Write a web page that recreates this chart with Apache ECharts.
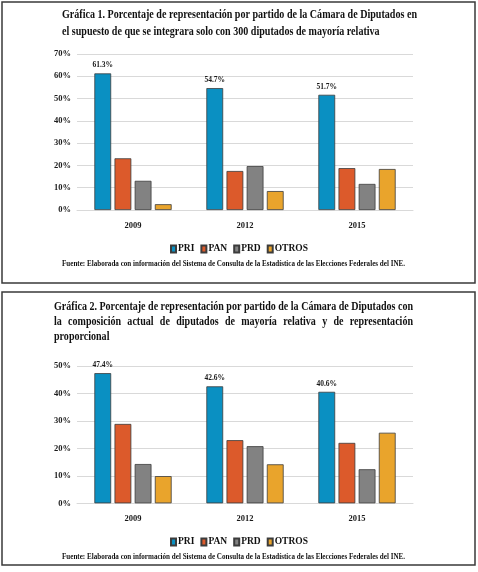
<!DOCTYPE html>
<html><head><meta charset="utf-8">
<script src="https://cdn.jsdelivr.net/npm/echarts@6/dist/echarts.min.js"></script>
<style>html,body{margin:0;padding:0;background:#fff;}#c{width:478px;height:572px;}</style>
</head><body><div id="c"></div>
<script>
const categories = ['2009', '2012', '2015'];
const parties = ['PRI', 'PAN', 'PRD', 'OTROS'];
const g1PRI = [61.3, 54.7, 51.7];
const g1PAN = [23.2, 17.5, 18.8];
const g1PRD = [13.1, 19.7, 11.7];
const g1OTROS = [2.6, 8.5, 18.4];
const g2PRI = [47.4, 42.6, 40.6];
const g2PAN = [28.9, 23.0, 22.0];
const g2PRD = [14.3, 20.8, 12.4];
const g2OTROS = [9.9, 14.2, 25.7];
const y1Max = 70, y2Max = 50, yStep = 10;
const title1 = ['Gráfica 1. Porcentaje de representación por partido de la Cámara de Diputados en',
  'el supuesto de que se integrara solo con 300 diputados de mayoría relativa'];
const title2 = ['Gráfica 2. Porcentaje de representación por partido de la Cámara de Diputados con',
  'la composición actual de diputados de mayoría relativa y de representación',
  'proporcional'];
const source = 'Fuente: Elaborada con información del Sistema de Consulta de la Estadística de las Elecciones Federales del INE.';

const colors = ['#0a90c2', '#dc5a2b', '#828282', '#e9a42c'];
const FAM = '"Liberation Serif","Times New Roman",serif';
const cv = document.createElement('canvas').getContext('2d');
function measure(t, font) { cv.font = font; return cv.measureText(t).width; }

function lineEls(str, font, x, y, scale, justifyW) {
  if (!justifyW) {
    return [{ type: 'text', x: x, y: y, scaleX: scale, style: { x: 0, y: 0, text: str, font: font, fill: '#111', textAlign: 'left', textVerticalAlign: 'middle' } }];
  }
  const words = str.split(' ');
  const ws = words.map(w => measure(w, font) * scale);
  const tot = ws.reduce((a, b) => a + b, 0);
  const gap = (justifyW - tot) / (words.length - 1);
  let cx = x; const out = [];
  words.forEach((w, i) => {
    out.push({ type: 'text', x: cx, y: y, scaleX: scale, style: { x: 0, y: 0, text: w, font: font, fill: '#111', textAlign: 'left', textVerticalAlign: 'middle' } });
    cx += ws[i] + gap;
  });
  return out;
}
const tFont = 'bold 13.5px ' + FAM;
const s1 = (417 - 62) / measure(title1[0], tFont);
const s2 = (413 - 54) / measure(title2[0], tFont);
const sFont = 'bold 7.8px ' + FAM;
const sS = (405 - 62) / measure(source, sFont);

const graphic = [
  { type: 'rect', shape: { x: 2, y: 2, width: 473, height: 281 }, style: { fill: 'none', stroke: '#3a3a3a', lineWidth: 1.5 } },
  { type: 'rect', shape: { x: 2, y: 292, width: 473, height: 273 }, style: { fill: 'none', stroke: '#3a3a3a', lineWidth: 1.5 } }
].concat(
  lineEls(title1[0], tFont, 62, 15, s1),
  lineEls(title1[1], tFont, 62, 32, s1),
  lineEls(title2[0], tFont, 54, 307, s2),
  lineEls(title2[1], tFont, 54, 322, s2, 413 - 54),
  lineEls(title2[2], tFont, 54, 337, s2),
  lineEls(source, sFont, 62, 264, sS),
  lineEls(source, sFont, 62, 557, sS)
);

const axisFont = { fontFamily: FAM, fontWeight: 'bold', fontSize: 8.5, color: '#1a1a1a' };
function xAx(gi) {
  return { type: 'category', gridIndex: gi, data: categories, axisTick: { show: false },
    axisLine: { lineStyle: { color: '#d9d9d9' } }, axisLabel: Object.assign({ margin: 11 }, axisFont) };
}
function yAx(gi, max) {
  return { type: 'value', gridIndex: gi, min: 0, max: max, interval: yStep,
    axisLabel: Object.assign({ formatter: '{value}%', margin: 6 }, axisFont),
    splitLine: { lineStyle: { color: '#d9d9d9' } }, axisLine: { show: false }, axisTick: { show: false } };
}
function ser(name, data, gi, ci, lab) {
  return { type: 'bar', name: name, data: data, xAxisIndex: gi, yAxisIndex: gi,
    barGap: '20%', barCategoryGap: '31%',
    itemStyle: { color: colors[ci], borderColor: '#3c3c3c', borderWidth: 0.8 },
    label: lab ? { show: true, position: 'top', distance: 4, formatter: p => p.value.toFixed(1) + '%', fontFamily: FAM, fontWeight: 'bold', fontSize: 7.5, color: '#1a1a1a' } : { show: false } };
}
const legendBase = { data: parties, icon: 'rect', itemWidth: 5, itemHeight: 7, itemGap: 6, left: 'center',
  textStyle: { fontFamily: FAM, fontWeight: 'bold', fontSize: 9.5, color: '#111', padding: [0, 0, 0, -3] }, selectedMode: false };

const chart = echarts.init(document.getElementById('c'));
chart.setOption({
  animation: false,
  backgroundColor: '#fff',
  graphic: graphic,
  grid: [
    { left: 77, right: 65, top: 54, height: 156 },
    { left: 77, right: 65, top: 366, height: 137.3 }
  ],
  xAxis: [xAx(0), xAx(1)],
  yAxis: [yAx(0, y1Max), yAx(1, y2Max)],
  legend: [
    Object.assign({ top: 239 }, legendBase),
    Object.assign({ top: 532 }, legendBase)
  ],
  series: [
    ser('PRI', g1PRI, 0, 0, true), ser('PAN', g1PAN, 0, 1), ser('PRD', g1PRD, 0, 2), ser('OTROS', g1OTROS, 0, 3),
    ser('PRI', g2PRI, 1, 0, true), ser('PAN', g2PAN, 1, 1), ser('PRD', g2PRD, 1, 2), ser('OTROS', g2OTROS, 1, 3)
  ]
});
</script></body></html>
